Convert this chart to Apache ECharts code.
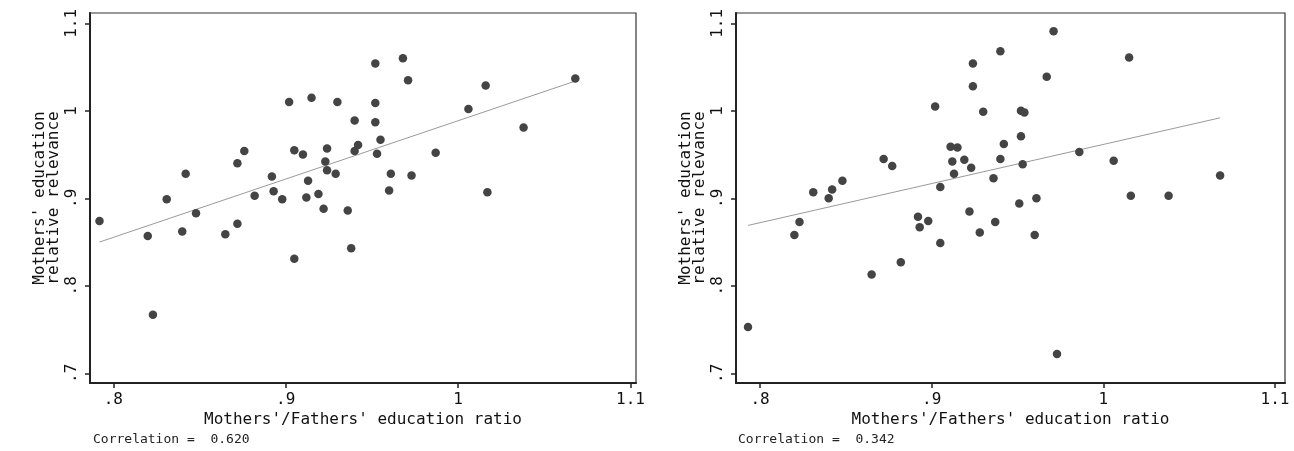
<!DOCTYPE html>
<html>
<head>
<meta charset="utf-8">
<script src="https://cdn.jsdelivr.net/npm/echarts@6/dist/echarts.min.js"></script>
<style>
html,body{margin:0;padding:0;background:#fff;}
#chart{width:1294px;height:451px;}
</style>
</head>
<body>
<div id="chart"></div>
<script>
// ---- data ----
const leftX = [0.952,0.968,0.971,1.016,1.068,0.902,0.915,0.930,0.952,1.006,
               0.940,0.952,1.038,0.955,0.876,0.905,0.910,0.924,0.942,0.940,
               0.953,0.987,0.872,0.923,0.924,0.929,0.842,0.892,0.961,0.973,
               0.913,0.893,0.960,1.017,0.882,0.919,0.912,0.898,0.831,0.792,
               0.820,0.840,0.848,0.865,0.872,0.922,0.936,0.938,0.905,0.823];
const leftY = [1.054,1.060,1.035,1.029,1.037,1.010,1.015,1.010,1.009,1.002,
               0.989,0.987,0.981,0.967,0.954,0.955,0.950,0.957,0.961,0.954,
               0.951,0.952,0.940,0.942,0.932,0.928,0.928,0.925,0.928,0.926,
               0.920,0.908,0.909,0.907,0.903,0.905,0.901,0.899,0.899,0.874,
               0.857,0.862,0.883,0.859,0.871,0.888,0.886,0.843,0.831,0.767];
const rightX = [0.971,0.940,1.015,0.924,0.967,0.924,0.902,0.930,0.952,0.954,
                0.952,0.942,0.911,0.915,0.872,0.877,0.912,0.919,0.940,0.923,
                0.953,0.986,1.006,1.068,0.913,0.936,0.848,0.905,0.842,0.831,
                1.016,1.038,0.840,0.961,0.951,0.823,0.820,0.892,0.898,0.893,
                0.905,0.922,0.928,0.937,0.960,0.882,0.865,0.793,0.973];
const rightY = [1.091,1.068,1.061,1.054,1.039,1.028,1.005,0.999,1.000,0.998,
                0.971,0.962,0.959,0.958,0.945,0.937,0.942,0.944,0.945,0.935,
                0.939,0.953,0.943,0.926,0.928,0.923,0.920,0.913,0.910,0.907,
                0.903,0.903,0.900,0.900,0.894,0.873,0.858,0.879,0.874,0.867,
                0.849,0.885,0.861,0.873,0.858,0.827,0.813,0.753,0.722];
const leftFitX = [0.792, 1.068];
const leftFitY = [0.850, 1.034];
const rightFitX = [0.793, 1.068];
const rightFitY = [0.869, 0.992];
const correlations = ['0.620', '0.342'];

const xTicks = [0.8, 0.9, 1.0, 1.1];
const xTickLabels = ['.8', '.9', '1', '1.1'];
const yTicks = [0.7, 0.8, 0.9, 1.0, 1.1];
const yTickLabels = ['.7', '.8', '.9', '1', '1.1'];

const xTitle = "Mothers'/Fathers' education ratio";
const yTitle = "Mothers' education\nrelative relevance";

// ---- chart ----
const FONT = 'DejaVu Sans Mono';
function lab(ticks, labels) {
  return function (v) {
    let best = 0, d = Infinity;
    ticks.forEach((t, i) => { const dd = Math.abs(t - v); if (dd < d) { d = dd; best = i; } });
    return labels[best];
  };
}
function pairs(xs, ys) { return xs.map((x, i) => [x, ys[i]]); }

const axisLineStyle = { color: '#222', width: 2 };
function makeX(idx, min, max) {
  return {
    type: 'value', gridIndex: idx, min: min, max: max,
    name: xTitle, nameLocation: 'middle', nameGap: 29, nameMoveOverlap: false,
    nameTextStyle: { fontFamily: FONT, fontSize: 16, color: '#111' },
    axisLine: { show: true, onZero: false, lineStyle: axisLineStyle },
    axisTick: { show: true, length: 5, customValues: xTicks, lineStyle: { color: '#222', width: 1.5 } },
    axisLabel: { customValues: xTicks, formatter: lab(xTicks, xTickLabels), margin: 9,
                 fontFamily: FONT, fontSize: 16, color: '#111', showMinLabel: true, showMaxLabel: true },
    splitLine: { show: false }
  };
}
function makeY(idx) {
  return {
    type: 'value', gridIndex: idx, min: 0.6889, max: 1.1118,
    name: yTitle, nameLocation: 'middle', nameGap: 29, nameRotate: 90, nameMoveOverlap: false,
    nameTextStyle: { fontFamily: FONT, fontSize: 16, color: '#111', lineHeight: 14 },
    axisLine: { show: true, onZero: false, lineStyle: axisLineStyle },
    axisTick: { show: true, length: 5, customValues: yTicks, lineStyle: { color: '#222', width: 1.5 } },
    axisLabel: { customValues: yTicks, formatter: lab(yTicks, yTickLabels), rotate: 90, margin: 10,
                 fontFamily: FONT, fontSize: 16, color: '#111', showMinLabel: true, showMaxLabel: true },
    splitLine: { show: false }
  };
}
const dotStyle = { color: '#444', opacity: 1 };
const lineStyle = { color: '#9a9a9a', width: 1 };

const option = {
  backgroundColor: '#ffffff',
  animation: false,
  title: [
    { text: 'Correlation =  ' + correlations[0], left: 93, top: 433, padding: 0,
      textStyle: { fontFamily: FONT, fontSize: 13, fontWeight: 'normal', color: '#222' } },
    { text: 'Correlation =  ' + correlations[1], left: 738, top: 433, padding: 0,
      textStyle: { fontFamily: FONT, fontSize: 13, fontWeight: 'normal', color: '#222' } }
  ],
  grid: [
    { left: 90, top: 13, width: 546, height: 370, show: true, borderColor: '#333', borderWidth: 1.2, backgroundColor: '#fff' },
    { left: 736, top: 13, width: 549, height: 370, show: true, borderColor: '#333', borderWidth: 1.2, backgroundColor: '#fff' }
  ],
  xAxis: [ makeX(0, 0.7865, 1.1032), makeX(1, 0.7860, 1.1058) ],
  yAxis: [ makeY(0), makeY(1) ],
  series: [
    { type: 'line', xAxisIndex: 0, yAxisIndex: 0, data: pairs(leftFitX, leftFitY),
      showSymbol: false, symbol: 'none', lineStyle: lineStyle, z: 1 },
    { type: 'scatter', xAxisIndex: 0, yAxisIndex: 0, data: pairs(leftX, leftY),
      symbolSize: 8.5, itemStyle: dotStyle, z: 2 },
    { type: 'line', xAxisIndex: 1, yAxisIndex: 1, data: pairs(rightFitX, rightFitY),
      showSymbol: false, symbol: 'none', lineStyle: lineStyle, z: 1 },
    { type: 'scatter', xAxisIndex: 1, yAxisIndex: 1, data: pairs(rightX, rightY),
      symbolSize: 8.5, itemStyle: dotStyle, z: 2 }
  ]
};
const chart = echarts.init(document.getElementById('chart'), null, { renderer: 'canvas' });
chart.setOption(option);
</script>
</body>
</html>
